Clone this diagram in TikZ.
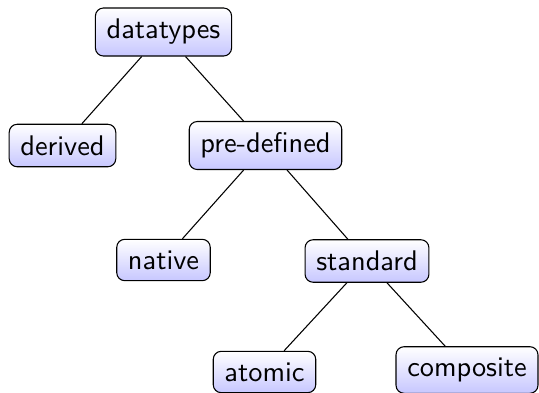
\documentclass[tikz,border=0pt]{standalone}
\usetikzlibrary{shapes.misc}
\begin{document}
\begin{tikzpicture}[x=0.3735pt,y=-0.3735pt,
  box/.style={draw=black, line width=0.4pt, rounded corners=3pt, inner sep=4.2pt,
    top color=white, bottom color=blue!22, font=\fontsize{10.6}{12.7}\selectfont\sffamily},
  link/.style={draw=black, line width=0.4pt}]
\useasboundingbox (0,0) rectangle (539,392);
\node[box] (dt) at (163.5,32) {datatypes};
\node[box] (der) at (62.5,145.5) {derived};
\node[box] (pre) at (265.5,145.5) {pre-defined};
\node[box] (nat) at (163.5,260) {native};
\node[box] (std) at (367,261) {standard\ };
\node[box] (atm) at (264.5,372) {atomic};
\node[box] (cmp) at (467,370) {composite};
\draw[link] (dt) -- (der);
\draw[link] (dt) -- (pre);
\draw[link] (pre) -- (nat);
\draw[link] (pre) -- (std);
\draw[link] (std) -- (atm);
\draw[link] (std) -- (cmp);
\end{tikzpicture}
\end{document}
